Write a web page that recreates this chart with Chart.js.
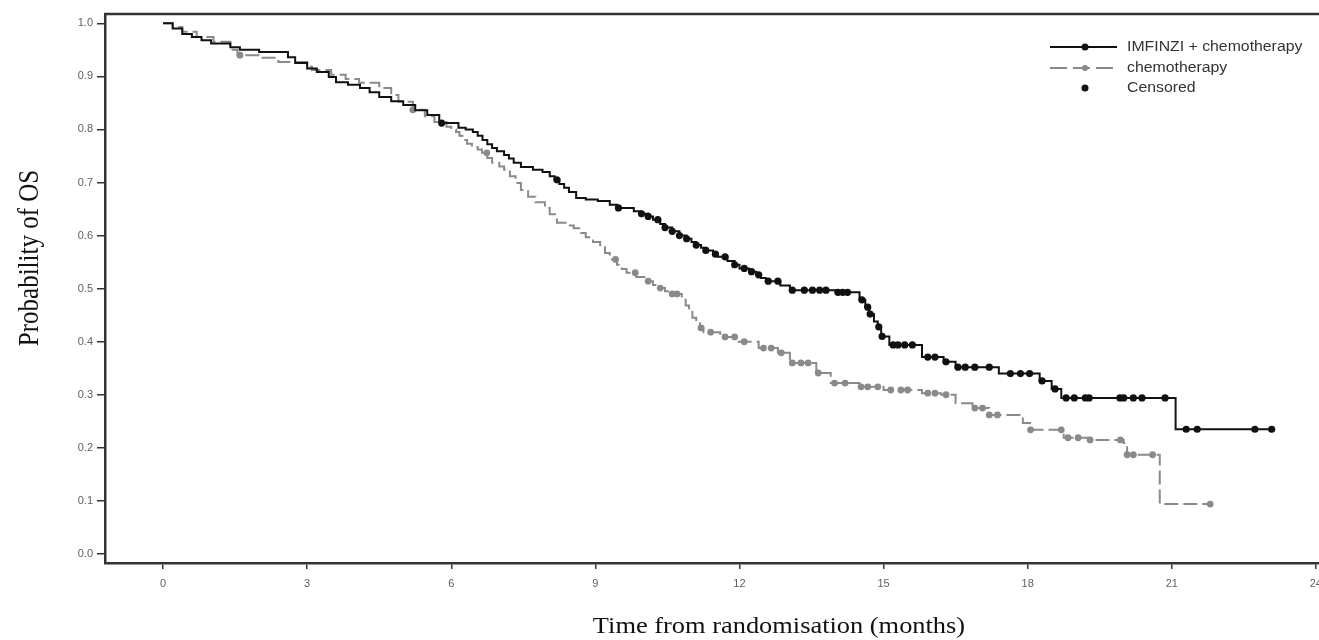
<!DOCTYPE html>
<html><head><meta charset="utf-8">
<script src="https://cdn.jsdelivr.net/npm/chart.js@4.4.0/dist/chart.umd.min.js"></script>
<style>
html,body{margin:0;padding:0;background:#fff;overflow:hidden;}
#wrap{position:relative;width:1319px;height:640px;overflow:hidden;}
canvas{display:block;}
</style></head><body>
<div id="wrap"><canvas id="c" width="1330" height="640"></canvas></div>
<script>
// ---- data ----
const imfTime = [0,0.2,0.4,0.6,0.8,1.0,1.4,1.6,2.0,2.6,2.75,3.0,3.2,3.45,3.6,3.85,4.1,4.3,4.5,4.75,5.0,5.25,5.5,5.75,6.15,6.3,6.45,6.55,6.65,6.75,6.85,6.95,7.1,7.2,7.3,7.45,7.7,7.9,8.05,8.15,8.25,8.35,8.45,8.6,8.8,9.05,9.3,9.45,9.8,9.95,10.1,10.2,10.35,10.45,10.6,10.75,10.9,11.0,11.1,11.2,11.3,11.45,11.55,11.75,11.9,12.0,12.2,12.35,12.45,12.55,12.85,13.05,14.0,14.5,14.62,14.7,14.8,14.88,14.95,15.12,15.8,16.25,16.5,17.4,18.25,18.5,18.7,21.08,23.08];
const imfSurv = [1.0,0.99,0.98,0.974,0.968,0.962,0.955,0.95,0.946,0.936,0.925,0.915,0.908,0.899,0.889,0.884,0.878,0.87,0.861,0.853,0.846,0.836,0.827,0.812,0.803,0.8,0.795,0.788,0.78,0.772,0.765,0.759,0.752,0.745,0.737,0.729,0.724,0.72,0.712,0.705,0.697,0.69,0.682,0.671,0.668,0.665,0.658,0.652,0.646,0.641,0.636,0.63,0.622,0.615,0.608,0.6,0.594,0.588,0.582,0.577,0.572,0.565,0.56,0.552,0.545,0.538,0.532,0.526,0.52,0.514,0.506,0.497,0.493,0.479,0.465,0.452,0.438,0.428,0.41,0.394,0.371,0.362,0.352,0.34,0.326,0.311,0.294,0.235,0.235];
const chemoTime = [0,0.2,0.4,0.7,1.05,1.4,1.55,2.0,2.4,3.0,3.1,3.5,3.8,4.08,4.5,4.75,4.9,5.2,5.45,5.65,5.9,6.0,6.1,6.17,6.23,6.33,6.43,6.55,6.64,6.75,6.85,7.0,7.1,7.22,7.34,7.45,7.6,7.75,7.95,8.05,8.2,8.4,8.55,8.7,8.8,8.95,9.1,9.2,9.3,9.45,9.55,9.65,9.85,10.05,10.2,10.3,10.45,10.55,10.8,10.88,10.95,11.02,11.1,11.18,11.25,11.6,11.95,12.4,12.8,13.05,13.6,13.9,14.5,15.0,15.8,16.2,16.5,16.85,17.2,17.9,18.05,18.75,19.3,20.0,20.07,20.75,21.8];
const chemoSurv = [1.0,0.993,0.984,0.974,0.965,0.95,0.94,0.935,0.927,0.918,0.912,0.903,0.895,0.888,0.878,0.865,0.852,0.837,0.825,0.814,0.805,0.8,0.795,0.788,0.78,0.773,0.767,0.762,0.756,0.746,0.737,0.73,0.724,0.712,0.699,0.686,0.673,0.663,0.652,0.64,0.624,0.619,0.614,0.605,0.597,0.588,0.578,0.567,0.555,0.545,0.537,0.53,0.522,0.514,0.507,0.501,0.495,0.49,0.479,0.468,0.456,0.445,0.435,0.426,0.418,0.409,0.4,0.388,0.379,0.36,0.341,0.322,0.315,0.309,0.303,0.3,0.284,0.275,0.262,0.247,0.234,0.219,0.215,0.209,0.187,0.094,0.094];
const imfCensorTime = [5.8,8.2,9.48,9.96,10.1,10.3,10.45,10.6,10.75,10.9,11.1,11.3,11.5,11.7,11.9,12.1,12.25,12.4,12.6,12.8,13.1,13.35,13.52,13.67,13.8,14.05,14.15,14.25,14.55,14.67,14.72,14.9,14.97,15.2,15.3,15.44,15.6,15.92,16.07,16.3,16.55,16.7,16.9,17.2,17.64,17.85,18.04,18.3,18.57,18.8,18.97,19.2,19.28,19.92,20.0,20.2,20.38,20.86,21.3,21.53,22.73,23.08];
const chemoCensorTime = [1.6,5.2,6.74,9.42,9.83,10.1,10.35,10.6,10.7,11.2,11.4,11.7,11.9,12.1,12.5,12.66,12.87,13.1,13.28,13.43,13.64,13.98,14.2,14.53,14.67,14.88,15.15,15.36,15.5,15.92,16.07,16.3,16.9,17.06,17.2,17.37,18.06,18.7,18.84,19.05,19.3,19.93,20.07,20.2,20.6,21.8];
const xTickValues = [0,3,6,9,12,15,18,21,24];
const yTickValues = [0,0.1,0.2,0.3,0.4,0.5,0.6,0.7,0.8,0.9,1.0];
const seriesLabels = ['IMFINZI + chemotherapy','chemotherapy','Censored'];
const xTitle = 'Time from randomisation (months)';
const yTitle = 'Probability of OS';

// ---- helpers ----
function survAt(times, survs, t){
  let v = survs[0];
  for (let i=0;i<times.length;i++){ if (times[i] <= t + 1e-9) v = survs[i]; }
  return v;
}
const pts = (ts, ss) => ts.map((t,i)=>({x:t, y:ss[i]}));
const censorPts = (cts, ts, ss) => cts.map(t=>({x:t, y:survAt(ts, ss, t)}));

const BLACK = '#111111', GREY = '#8a8a8a', AXIS = '#333333';

const framePlugin = {
  id:'frame',
  afterDraw(chart){
    const {ctx, chartArea} = chart;
    ctx.save();
    ctx.strokeStyle = AXIS; ctx.lineWidth = 2.5;
    ctx.beginPath(); ctx.moveTo(chartArea.left-1, chartArea.top); ctx.lineTo(chart.width, chartArea.top); ctx.stroke();
    // axis titles
    ctx.fillStyle = '#111';
    ctx.textAlign = 'center'; ctx.textBaseline = 'middle';
    ctx.font = '24px "Liberation Serif", "Times New Roman", serif';
    ctx.save(); ctx.translate(779, 627); ctx.scale(1.1,1); ctx.fillText(xTitle, 0, 0); ctx.restore();
    ctx.font = '25px "Liberation Serif", "Times New Roman", serif';
    ctx.save(); ctx.translate(30, 258); ctx.rotate(-Math.PI/2); ctx.scale(1,1.15); ctx.fillText(yTitle, 0, 0); ctx.restore();
    // legend
    const lx0 = 1050, lx1 = 1117, mx = 1085, tx = 1127, rows = [47, 68, 88];
    ctx.lineWidth = 2;
    ctx.strokeStyle = BLACK; ctx.setLineDash([]);
    ctx.beginPath(); ctx.moveTo(lx0, rows[0]); ctx.lineTo(lx1, rows[0]); ctx.stroke();
    ctx.fillStyle = BLACK; ctx.beginPath(); ctx.arc(mx, rows[0], 3.5, 0, Math.PI*2); ctx.fill();
    ctx.strokeStyle = GREY; ctx.setLineDash([17,6]);
    ctx.beginPath(); ctx.moveTo(lx0, rows[1]); ctx.lineTo(lx1, rows[1]); ctx.stroke();
    ctx.setLineDash([]);
    ctx.fillStyle = GREY; ctx.beginPath(); ctx.arc(mx, rows[1], 3, 0, Math.PI*2); ctx.fill();
    ctx.fillStyle = BLACK; ctx.beginPath(); ctx.arc(mx, rows[2], 3.5, 0, Math.PI*2); ctx.fill();
    ctx.font = '14px "Liberation Sans", Arial, sans-serif';
    ctx.fillStyle = '#333'; ctx.textAlign = 'left';
    rows.forEach((y,i)=>{ ctx.save(); ctx.translate(tx, y); ctx.scale(1.13,1); ctx.fillText(seriesLabels[i], 0, 0); ctx.restore(); });
    ctx.restore();
  }
};

new Chart(document.getElementById('c'), {
  type:'line',
  data:{
    datasets:[
      {label:seriesLabels[0], data:pts(imfTime, imfSurv), stepped:'before', borderColor:BLACK, borderWidth:2, pointRadius:0, fill:false},
      {label:seriesLabels[1], data:pts(chemoTime, chemoSurv), stepped:'before', borderColor:GREY, borderWidth:2, borderDash:[14,5], pointRadius:0, fill:false},
      {label:seriesLabels[2]+' (IMFINZI)', data:censorPts(imfCensorTime, imfTime, imfSurv), showLine:false, pointRadius:3.6, pointBackgroundColor:BLACK, pointBorderWidth:0},
      {label:seriesLabels[2]+' (chemo)', data:censorPts(chemoCensorTime, chemoTime, chemoSurv), showLine:false, pointRadius:3.4, pointBackgroundColor:GREY, pointBorderWidth:0}
    ]
  },
  options:{
    responsive:false, animation:false, devicePixelRatio:1,
    layout:{padding:{top:14, left:0, right:0, bottom:0}},
    plugins:{legend:{display:false}, tooltip:{enabled:false}},
    scales:{
      x:{type:'linear', min:-1.209, max:24.14,
        afterBuildTicks:s=>{ s.ticks = xTickValues.map(v=>({value:v})); },
        afterFit:s=>{ s.height = 77; },
        ticks:{font:{family:'"Liberation Sans", Arial, sans-serif', size:11}, color:'#606060', padding:8, maxRotation:0, autoSkip:false, callback:v=>String(v)},
        grid:{display:true, drawOnChartArea:false, drawTicks:true, tickLength:6, color:AXIS, lineWidth:1.5},
        border:{display:true, color:AXIS, width:2.5}
      },
      y:{type:'linear', min:-0.017, max:1.0175,
        afterBuildTicks:s=>{ s.ticks = yTickValues.map(v=>({value:v})); },
        afterFit:s=>{ s.width = 105; },
        ticks:{font:{family:'"Liberation Sans", Arial, sans-serif', size:11}, color:'#606060', padding:4, autoSkip:false, callback:v=>Number(v).toFixed(1)},
        grid:{display:true, drawOnChartArea:false, drawTicks:true, tickLength:8, color:AXIS, lineWidth:1.5},
        border:{display:true, color:AXIS, width:2.5}
      }
    }
  },
  plugins:[framePlugin]
});
</script>
</body></html>
